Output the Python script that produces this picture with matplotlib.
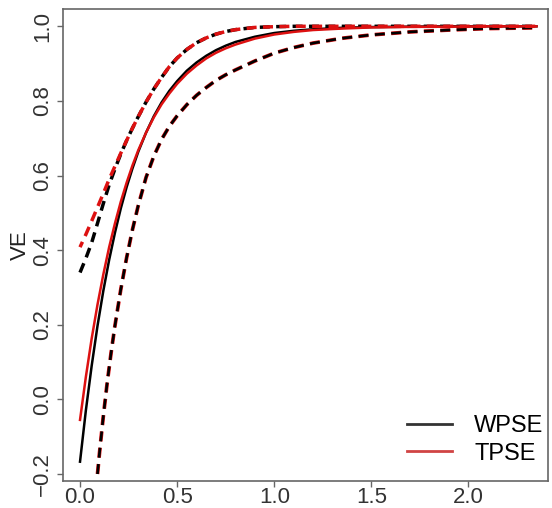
import numpy as np
import matplotlib
matplotlib.use("Agg")
import matplotlib.pyplot as plt

plt.rcParams['font.family'] = ['Liberation Sans', 'DejaVu Sans']

# point estimates (solid)
x_est = [0.0, 0.03, 0.06, 0.09, 0.12, 0.15, 0.18, 0.21, 0.24, 0.27, 0.30, 0.34, 0.38,
         0.42, 0.46, 0.50, 0.55, 0.60, 0.65, 0.70, 0.75, 0.80, 0.90, 1.0, 1.1, 1.2,
         1.35, 1.5, 1.7, 1.9, 2.1, 2.35]
wpse_est = [-0.167, -0.030, 0.090, 0.197, 0.291, 0.374, 0.447, 0.512, 0.569, 0.619, 0.664,
            0.715, 0.759, 0.796, 0.827, 0.853, 0.881, 0.903, 0.921, 0.936, 0.948, 0.958,
            0.972, 0.982, 0.988, 0.992, 0.996, 0.998, 0.999, 1.0, 1.0, 1.0]
tpse_est = [-0.055, 0.060, 0.163, 0.254, 0.335, 0.408, 0.472, 0.530, 0.581, 0.627, 0.668,
            0.715, 0.756, 0.791, 0.820, 0.846, 0.873, 0.895, 0.914, 0.929, 0.941, 0.951,
            0.967, 0.978, 0.985, 0.990, 0.994, 0.997, 0.9985, 0.999, 1.0, 1.0]

# upper bounds (dashed)
wpse_up = [0.340, 0.378, 0.420, 0.472, 0.525, 0.575, 0.618, 0.658, 0.694, 0.727, 0.758,
           0.797, 0.832, 0.863, 0.892, 0.915, 0.938, 0.956, 0.969, 0.979, 0.986, 0.991,
           0.997, 0.999, 1.0, 1.0, 1.0, 1.0, 1.0, 1.0, 1.0, 1.0]
tpse_up = [0.408, 0.442, 0.478, 0.515, 0.552, 0.590, 0.625, 0.660, 0.694, 0.727, 0.758,
           0.797, 0.832, 0.863, 0.892, 0.915, 0.938, 0.956, 0.969, 0.979, 0.986, 0.991,
           0.997, 0.999, 1.0, 1.0, 1.0, 1.0, 1.0, 1.0, 1.0, 1.0]

# lower bounds (dashed)
x_low = [0.09, 0.10, 0.12, 0.14, 0.16, 0.18, 0.21, 0.24, 0.27, 0.30, 0.34, 0.38, 0.42,
         0.46, 0.50, 0.55, 0.60, 0.65, 0.70, 0.75, 0.80, 0.90, 1.0, 1.1, 1.2, 1.35,
         1.5, 1.7, 1.9, 2.1, 2.35]
wpse_low = [-0.200, -0.145, -0.045, 0.045, 0.125, 0.198, 0.295, 0.380, 0.455, 0.520,
            0.595, 0.652, 0.697, 0.732, 0.760, 0.790, 0.815, 0.836, 0.855, 0.870, 0.883,
            0.907, 0.928, 0.943, 0.955, 0.968, 0.977, 0.985, 0.990, 0.994, 0.996]
tpse_low = [-0.200, -0.145, -0.045, 0.045, 0.125, 0.198, 0.295, 0.380, 0.455, 0.520,
            0.595, 0.652, 0.697, 0.732, 0.760, 0.790, 0.815, 0.836, 0.855, 0.870, 0.883,
            0.907, 0.928, 0.943, 0.955, 0.968, 0.977, 0.985, 0.990, 0.994, 0.996]

xticks = [0.0, 0.5, 1.0, 1.5, 2.0]
xtick_labels = ["0.0", "0.5", "1.0", "1.5", "2.0"]
yticks = [-0.2, 0.0, 0.2, 0.4, 0.6, 0.8, 1.0]
ytick_labels = ["\u22120.2", "0.0", "0.2", "0.4", "0.6", "0.8", "1.0"]

red = '#dd1111'
# dash pattern in points, same absolute length for every dashed line
dash_on, dash_off = 7.2, 4.6


def dashes(lw, offset=0.0):
    return (offset / lw, (dash_on / lw, dash_off / lw))


fig = plt.figure(figsize=(5.52, 5.08), dpi=100)
ax = fig.add_axes([0.114, 0.053, 0.879, 0.929])

ax.plot(x_est, wpse_est, color='black', lw=1.8)
ax.plot(x_est, wpse_up, color='black', lw=2.5, ls=dashes(2.5))
ax.plot(x_low, tpse_low, color=red, lw=2.7, ls=dashes(2.7))
ax.plot(x_low, wpse_low, color='black', lw=1.9, ls=dashes(1.9))
ax.plot(x_est, tpse_est, color=red, lw=1.8)
ax.plot(x_est, tpse_up, color=red, lw=2.5, ls=dashes(2.5, 3.0))

ax.plot([], [], color='#333333', lw=2.0, label='WPSE')
ax.plot([], [], color='#d04444', lw=2.0, label='TPSE')
ax.legend(loc='lower right', bbox_to_anchor=(1.0, 0.025), frameon=False, fontsize=17,
          handlelength=1.9, handletextpad=0.93, borderpad=0.2, borderaxespad=0.0,
          labelspacing=0.23)

ax.set_xlim(-0.088, 2.41)
ax.set_ylim(-0.219, 1.046)
ax.set_xticks(xticks)
ax.set_xticklabels(xtick_labels)
ax.set_yticks(yticks)
ax.set_yticklabels(ytick_labels, rotation=90, va='center')
ax.set_ylabel("VE", fontsize=16, color='#222222', labelpad=1)

for s in ax.spines.values():
    s.set_color('#666666')
    s.set_linewidth(1.2)
ax.tick_params(axis='both', labelsize=16, colors='#666666', labelcolor='#333333',
               length=4, width=1.0)
ax.tick_params(axis='x', pad=0)
ax.tick_params(axis='y', pad=3)

fig.savefig("out.png", dpi=100)
